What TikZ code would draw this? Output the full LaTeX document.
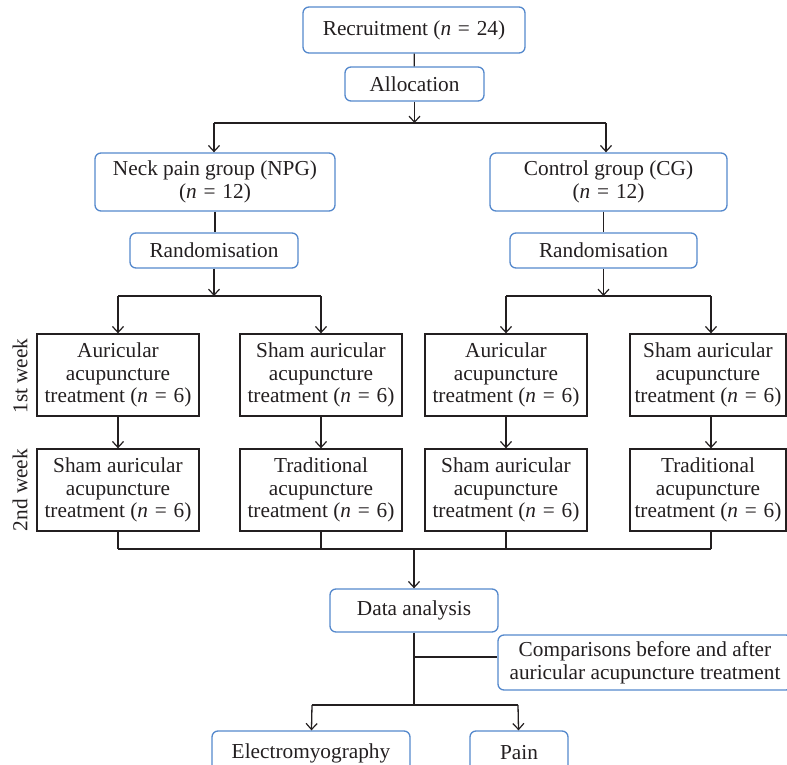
\documentclass[tikz,border=0pt]{standalone}
\usepackage{fontspec}
\setmainfont{Liberation Serif}
\usetikzlibrary{arrows.meta}
\definecolor{bluebd}{RGB}{84,136,204}
\definecolor{ink}{RGB}{35,31,32}
\newcommand{\eqs}{\hspace{0.32em}=\hspace{0.32em}}
\tikzset{
  base/.style={draw, line width=1.3pt, align=center, inner sep=0pt, text=ink,
    font=\fontsize{21.3}{22.8}\selectfont},
  bluebox/.style={base, draw=bluebd, rounded corners=6pt},
  blackbox/.style={base, draw=ink, minimum width=162pt, minimum height=82pt},
  conn/.style={draw=ink, line width=1.3pt},
  arr/.style={conn, -{Straight Barb[length=6pt,width=11pt,line width=1.2pt]}},
  weeklbl/.style={text=ink, rotate=90, font=\fontsize{21.3}{22.8}\selectfont}
}
\begin{document}
\begin{tikzpicture}[x=1pt,y=-1pt]
\useasboundingbox (0,0) rectangle (787,765);
\clip (0,0) rectangle (787,765);

\node[bluebox, minimum width=222pt, minimum height=46pt] (rec) at (414,30) {Recruitment (\textit{n}\eqs24)};
\node[bluebox, minimum width=139pt, minimum height=34pt] (alloc) at (414.5,84) {Allocation};

\node[bluebox, minimum width=240pt, minimum height=58pt] (npg) at (215,182) {Neck pain group (NPG)\\(\textit{n}\eqs12)};
\node[bluebox, minimum width=237pt, minimum height=58pt] (cg) at (608.5,182) {Control group (CG)\\(\textit{n}\eqs12)};

\node[bluebox, minimum width=168pt, minimum height=35pt] (randl) at (214,250.5) {Randomisation};
\node[bluebox, minimum width=187pt, minimum height=35pt] (randr) at (603.5,250.5) {Randomisation};

\node[blackbox] (a1) at (118,375) {Auricular\\acupuncture\\treatment (\textit{n}\eqs6)};
\node[blackbox] (b1) at (321,375) {Sham auricular\\acupuncture\\treatment (\textit{n}\eqs6)};
\node[blackbox] (c1) at (506,375) {Auricular\\acupuncture\\treatment (\textit{n}\eqs6)};
\node[blackbox, minimum width=156pt] (d1) at (708,375) {Sham auricular\\acupuncture\\treatment (\textit{n}\eqs6)};

\node[blackbox] (a2) at (118,490) {Sham auricular\\acupuncture\\treatment (\textit{n}\eqs6)};
\node[blackbox] (b2) at (321,490) {Traditional\\acupuncture\\treatment (\textit{n}\eqs6)};
\node[blackbox] (c2) at (506,490) {Sham auricular\\acupuncture\\treatment (\textit{n}\eqs6)};
\node[blackbox, minimum width=156pt] (d2) at (708,490) {Traditional\\acupuncture\\treatment (\textit{n}\eqs6)};

\node[weeklbl] (w1) at (20,376) {1st week};
\node[weeklbl] (w2) at (20,490) {2nd week};

\node[bluebox, minimum width=168pt, minimum height=43pt] (data) at (414,610.5) {Data analysis};
\node[bluebox, minimum width=294pt, minimum height=55pt] (comp) at (645,662.5) {Comparisons before and after\\auricular acupuncture treatment};
\node[bluebox, minimum width=198pt, minimum height=44pt] (emg) at (311,753) {Electromyography};
\node[bluebox, minimum width=98pt, minimum height=44pt] (pain) at (519,753) {Pain};

% top
\draw[conn] (rec) -- (alloc);
\coordinate (s0) at (414.5,123);
\coordinate (s0l) at (214,123);
\coordinate (s0r) at (606,123);
\draw[arr] (alloc) -- (s0);
\draw[conn] (s0l) -- (s0r);
\draw[arr] (s0l) -- (s0l |- npg.north);
\draw[arr] (s0r) -- (s0r |- cg.north);

\draw[conn] (npg) -- (npg.south |- randl.north);
\draw[conn] (cg.south -| randr) -- (randr);

% randomisation splits
\coordinate (sl) at (214,296);
\coordinate (sr) at (603.5,296);
\coordinate (sla) at (118,296);
\coordinate (slb) at (321,296);
\coordinate (src) at (506,296);
\coordinate (srd) at (711,296);
\draw[arr] (randl) -- (sl);
\draw[arr] (randr) -- (sr);
\draw[conn] (sla) -- (slb);
\draw[conn] (src) -- (srd);
\draw[arr] (sla) -- (a1);
\draw[arr] (slb) -- (b1);
\draw[arr] (src) -- (c1);
\draw[arr] (srd) -- (srd |- d1.north);

% week 1 to week 2
\draw[arr] (a1) -- (a2);
\draw[arr] (b1) -- (b2);
\draw[arr] (c1) -- (c2);
\draw[arr] (d1.south -| srd) -- (d2.north -| srd);

% merge
\coordinate (ma) at (118,549);
\coordinate (mb) at (321,549);
\coordinate (mc) at (506,549);
\coordinate (md) at (711,549);
\coordinate (mm) at (414,549);
\draw[conn] (a2) -- (ma);
\draw[conn] (b2) -- (mb);
\draw[conn] (c2) -- (mc);
\draw[conn] (d2.south -| md) -- (md);
\draw[conn] (ma) -- (md);
\draw[arr] (mm) -- (data);

% analysis
\coordinate (dj) at (414,657);
\coordinate (db) at (414,705);
\coordinate (dl) at (312,705);
\coordinate (dr) at (518,705);
\draw[conn] (data) -- (db);
\draw[conn] (dj) -- (comp.west |- dj);
\draw[conn] (dl) -- (dr);
\draw[arr] (dl) -- (emg);
\draw[arr] (dr) -- (pain);
\end{tikzpicture}
\end{document}
